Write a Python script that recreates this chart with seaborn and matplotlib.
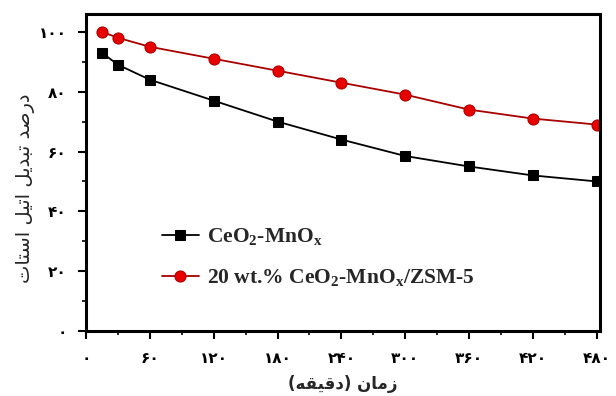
import matplotlib
matplotlib.use("Agg")
import matplotlib.pyplot as plt
import seaborn as sns
import pandas as pd
from matplotlib.ticker import MultipleLocator, FixedLocator

time_min = [15, 30, 60, 120, 180, 240, 300, 360, 420, 480]
ceo2_mnox = [93, 89, 84, 77, 70, 64, 58.5, 55, 52, 50]
ceo2_mnox_zsm5 = [100, 98, 95, 91, 87, 83, 79, 74, 71, 69]
series_labels = [r"CeO$_2$-MnO$_\mathrm{x}$", r"20 wt.% CeO$_2$-MnO$_\mathrm{x}$/ZSM-5"]
x_ticks = [0, 60, 120, 180, 240, 300, 360, 420, 480]
y_ticks = [0, 20, 40, 60, 80, 100]
# Persian labels pre-shaped (presentation forms, visual order)
x_label = "(\uFEEA\uFED8\uFEF4\uFED7\uFEA9) \uFEE5\uFE8E\uFEE3\uFEAF"
y_label = ("\uFE95\uFE8E\uFE98\uFEB3\uFE8D \uFEDE\uFEF4\uFE97\uFE8D "
           "\uFEDE\uFEF3\uFEAA\uFE92\uFE97 \uFEAA\uFEBB\uFEAD\uFEA9")

fa_digits = str.maketrans("0123456789", "\u06F0\u06F1\u06F2\u06F3\u06F4\u06F5\u06F6\u06F7\u06F8\u06F9")

sns.set_style("ticks")
plt.rcParams["mathtext.fontset"] = "custom"
plt.rcParams["mathtext.rm"] = "Liberation Serif:bold"
plt.rcParams["mathtext.it"] = "Liberation Serif:bold"
plt.rcParams["mathtext.bf"] = "Liberation Serif:bold"

df = pd.DataFrame({
    "t": time_min * 2,
    "v": ceo2_mnox + ceo2_mnox_zsm5,
    "s": [series_labels[0]] * len(time_min) + [series_labels[1]] * len(time_min),
})

fig = plt.figure(figsize=(6.16, 3.96), dpi=100)
ax = fig.add_axes([0.1396, 0.164, 0.8344, 0.801])

sns.lineplot(data=df[df.s == series_labels[0]], x="t", y="v", ax=ax, color="black",
             marker="s", markersize=7, markeredgecolor="black", linewidth=1.3,
             label=series_labels[0])
sns.lineplot(data=df[df.s == series_labels[1]], x="t", y="v", ax=ax, color="#a80000",
             marker="o", markersize=8, markerfacecolor="#e60000", markeredgecolor="#b00000",
             linewidth=1.3, label=series_labels[1])

ax.set_xlim(0, 483)
ax.set_ylim(0, 106)
ax.xaxis.set_major_locator(FixedLocator(x_ticks))
ax.yaxis.set_major_locator(FixedLocator(y_ticks))
ax.xaxis.set_minor_locator(MultipleLocator(30))
ax.yaxis.set_minor_locator(MultipleLocator(10))
ax.set_xticklabels([str(v).translate(fa_digits) for v in x_ticks],
                   fontfamily="DejaVu Sans", fontweight="bold", fontsize=11)
ax.set_yticklabels([str(v).translate(fa_digits) for v in y_ticks],
                   fontfamily="DejaVu Sans", fontweight="bold", fontsize=11)
ax.tick_params(which="major", direction="out", length=6, width=1.5, pad=8, colors="black")
ax.tick_params(which="minor", direction="out", length=3, width=1.2, colors="black")
for sp in ax.spines.values():
    sp.set_visible(True)
    sp.set_linewidth(2.2)
    sp.set_color("black")

ax.set_xlabel(x_label, fontfamily="DejaVu Sans", fontweight="bold", fontsize=12, labelpad=7)
ax.set_ylabel(y_label, fontfamily="DejaVu Sans", fontweight="normal", fontsize=14)
ax.yaxis.set_label_coords(-0.135, 0.45, transform=None) if False else ax.yaxis.set_label_coords(-0.118, 0.45)
ax.yaxis.label.set_verticalalignment("center")

leg = ax.legend(loc="upper left", bbox_to_anchor=(0.127, 0.365), frameon=False,
                prop={"family": "Liberation Serif", "weight": "bold", "size": 15.5},
                labelspacing=0.95, handlelength=1.7, handletextpad=0.4, borderpad=0)

fig.savefig("out.png", dpi=100)
